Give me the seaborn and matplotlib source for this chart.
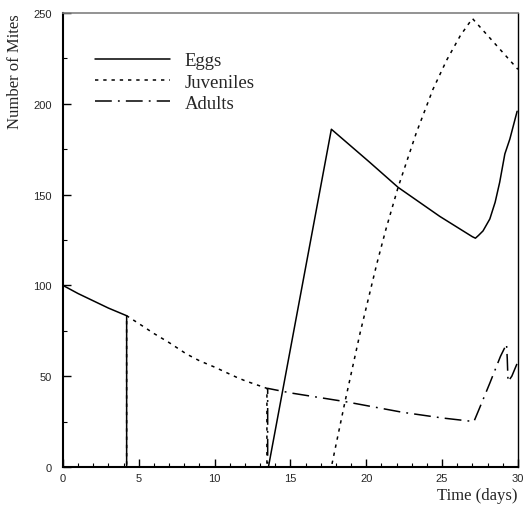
import matplotlib
matplotlib.use("Agg")
import matplotlib.pyplot as plt
import seaborn as sns
import pandas as pd
from matplotlib.ticker import MultipleLocator

# ---- data ----
eggs_t = [0, 1, 2, 3, 4.2, 4.2, 13.55, 17.7, 20.2, 22.1, 24.85, 27.0, 27.2, 27.4,
          27.7, 28.15, 28.5, 28.8, 29.14, 29.47, 29.95]
eggs_n = [100, 95.5, 91.5, 87.5, 83.3, 0, 0, 186, 168, 154, 138, 126.8, 126, 127.5,
          130, 136.6, 145.8, 156.8, 172.4, 180.6, 195.9]

juv_t = [0, 4.2, 4.2, 5, 6, 7, 8.15, 9, 10, 11.45, 12, 13.45, 13.45, 17.7, 18.6,
         19.6, 20.7, 21.3, 22.1, 23.3, 24.4, 25.3, 26.2, 27.0, 30]
juv_n = [0, 0, 83.3, 79, 73.5, 68.5, 62.2, 58.5, 55, 49.4, 47.5, 43.3, 0, 0, 36,
         74, 112, 131, 154, 184, 208, 224, 237.5, 247, 219]

adu_t = [0, 13.5, 13.5, 15.07, 18.6, 22.4, 25.0, 27.1, 27.45, 28.15, 28.85, 29.25,
         29.3, 29.35, 29.6, 30]
adu_n = [0, 0, 43.3, 40.7, 36, 30.1, 27, 25, 32, 46.2, 60.9, 67.7, 59.5, 47, 50, 58]

labels = ["Eggs", "Juveniles", "Adults"]
x_ticks = [0, 5, 10, 15, 20, 25, 30]
y_ticks = [0, 50, 100, 150, 200, 250]

sns.set_style("white")
plt.rcParams["font.family"] = ["Liberation Sans", "DejaVu Sans"]

fig = plt.figure(figsize=(5.29, 5.10), dpi=100)
ax = fig.add_axes([0.119, 0.0824, 0.860, 0.8901])

series = [(eggs_t, eggs_n, "-", labels[0]),
          (juv_t, juv_n, (0, (2.2, 3.2)), labels[1]),
          (adu_t, adu_n, (0, (11, 4, 1.2, 4)), labels[2])]
for t, n, ls, lab in series:
    df = pd.DataFrame({"t": t, "n": n})
    sns.lineplot(data=df, x="t", y="n", ax=ax, sort=False, estimator=None,
                 color="black", lw=1.1, linestyle=ls, label=lab)

ax.set_xlim(0, 30)
ax.set_ylim(0, 250)
ax.set_xticks(x_ticks)
ax.set_yticks(y_ticks)
ax.xaxis.set_minor_locator(MultipleLocator(1))
ax.yaxis.set_minor_locator(MultipleLocator(25))
ax.tick_params(axis="both", which="major", direction="in", length=6, width=1,
               color="black", labelsize=8, bottom=True, left=True,
               top=False, right=False)
ax.tick_params(axis="both", which="minor", direction="in", length=3, width=0.8,
               color="black", bottom=True, left=True, top=False, right=False)
ax.tick_params(axis="y", which="major", pad=8)
ax.tick_params(axis="x", which="major", pad=4)
ax.set_xlabel("")
ax.set_ylabel("")
ax.grid(False)

for side in ["left", "bottom"]:
    ax.spines[side].set_color("black")
    ax.spines[side].set_linewidth(1.5)
ax.spines["right"].set_color("black")
ax.spines["right"].set_linewidth(1.0)
ax.spines["top"].set_color("#808080")
ax.spines["top"].set_linewidth(1.2)

leg = ax.legend(loc="upper left", bbox_to_anchor=(0.055, 0.93), frameon=False,
                prop={"family": "Liberation Serif", "size": 13.5},
                handlelength=4.0, handletextpad=0.75, labelspacing=0.22,
                borderaxespad=0)

fig.text(0.028, 0.973, "Number of Mites", rotation=90, ha="center", va="top",
         family="Liberation Serif", fontsize=12)
fig.text(0.979, 0.012, "Time (days)", ha="right", va="bottom",
         family="Liberation Serif", fontsize=12)

fig.savefig("out.png", dpi=100)
